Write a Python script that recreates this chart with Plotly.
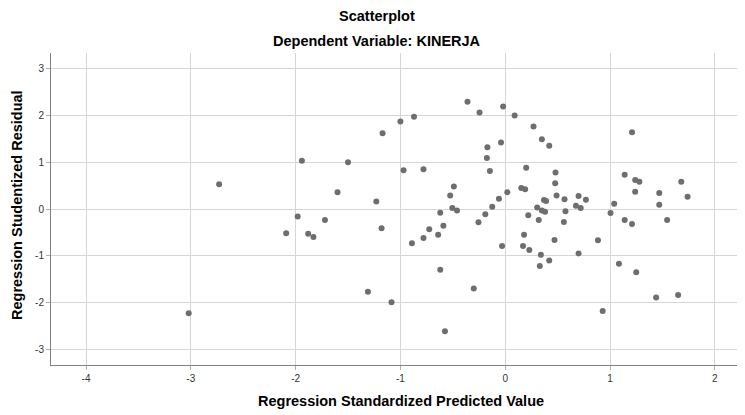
import plotly.graph_objects as go

# Regression standardized predicted value (x) and studentized residual (y)
pred = [-3.02, -2.73, -2.09, -1.98, -1.94, -1.88, -1.83, -1.72, -1.60, -1.50,
        -1.31, -1.23, -1.18, -1.17, -1.085, -1.00, -0.97, -0.89, -0.87, -0.78,
        -0.78, -0.725, -0.64, -0.62, -0.62, -0.59, -0.575, -0.525, -0.505, -0.49,
        -0.46, -0.36, -0.30, -0.255, -0.245, -0.19, -0.175, -0.17, -0.146, -0.124,
        -0.06, -0.04, -0.03, -0.02, 0.02, 0.09, 0.153, 0.17, 0.18, 0.19,
        0.20, 0.22, 0.23, 0.27, 0.305, 0.32, 0.33, 0.34, 0.35, 0.35,
        0.37, 0.38, 0.39, 0.42, 0.42, 0.47, 0.477, 0.48, 0.49, 0.56,
        0.566, 0.575, 0.675, 0.70, 0.70, 0.72, 0.77, 0.885, 0.93, 1.005,
        1.04, 1.085, 1.14, 1.14, 1.21, 1.21, 1.24, 1.24, 1.25, 1.28,
        1.44, 1.47, 1.47, 1.545, 1.65, 1.68, 1.74]
resid = [-2.23, 0.53, -0.52, -0.16, 1.03, -0.53, -0.60, -0.235, 0.36, 1.00,
         -1.77, 0.16, -0.41, 1.62, -1.99, 1.87, 0.83, -0.73, 1.97, 0.85,
         -0.62, -0.43, -0.55, -0.08, -1.30, -0.36, -2.61, 0.29, 0.02, 0.48,
         -0.03, 2.29, -1.70, -0.285, 2.06, -0.11, 1.09, 1.32, 0.81, 0.05,
         0.22, 1.42, -0.79, 2.19, 0.36, 2.00, 0.45, -0.79, -0.55, 0.42,
         0.88, -0.135, -0.875, 1.76, 0.03, -0.235, -1.22, -0.98, 1.49, -0.03,
         0.19, -0.06, 0.17, 1.35, -1.10, -0.66, 0.55, 0.78, 0.29, -0.28,
         0.21, -0.05, 0.07, 0.28, -0.95, 0.02, 0.20, -0.67, -2.18, -0.085,
         0.11, -1.17, 0.73, -0.235, 1.64, -0.32, 0.62, 0.37, -1.35, 0.58,
         -1.89, 0.34, 0.09, -0.235, -1.84, 0.58, 0.26]

x_ticks = [-4, -3, -2, -1, 0, 1, 2]
y_ticks = [-3, -2, -1, 0, 1, 2, 3]

title_1 = "Scatterplot"
title_2 = "Dependent Variable: KINERJA"
x_title = "Regression Standardized Predicted Value"
y_title = "Regression Studentized Residual"

FONT = "Liberation Sans, Arial, sans-serif"

fig = go.Figure(go.Scatter(
    x=pred, y=resid, mode="markers",
    marker=dict(size=6, color="#6e6e6e", line=dict(width=0)),
    hoverinfo="x+y", showlegend=False,
))

axis_common = dict(
    showgrid=True, gridcolor="#d6d6d6", gridwidth=1,
    zeroline=False, showline=True, linecolor="#808080", linewidth=1,
    ticks="outside", ticklen=4, tickcolor="#b0b0b0",
    tickfont=dict(family=FONT, size=10, color="#333333"),
    fixedrange=True,
)

fig.update_xaxes(range=[-4.334, 2.288], tickvals=x_ticks,
                 ticktext=[str(v) for v in x_ticks], **axis_common)
fig.update_yaxes(range=[-3.333, 3.333], tickvals=y_ticks,
                 ticktext=[str(v) for v in y_ticks], **axis_common)

# The page body adds an 8px margin; size the figure so the plot lands
# at the same screen pixels as the reference.
OFF = 8
W, H = 745 - OFF, 415 - OFF
L, R, T, B = 51 - OFF, 0, 53 - OFF, 50
pw, ph = W - L - R, H - T - B

def sx(px):  # screen x -> paper x
    return (px - OFF - L) / pw

def sy(py):  # screen y -> paper y
    return (H - B - (py - OFF)) / ph

annotations = [
    dict(text="<b>" + title_1 + "</b>", x=sx(377), y=sy(16),
         font=dict(family=FONT, size=14.5, color="#000000")),
    dict(text="<b>" + title_2 + "</b>", x=sx(377), y=sy(41),
         font=dict(family=FONT, size=14.5, color="#000000")),
    dict(text="<b>" + x_title + "</b>", x=sx(401), y=sy(401),
         font=dict(family=FONT, size=14.5, color="#000000")),
    dict(text="<b>" + y_title + "</b>", x=sx(17), y=sy(205),
         textangle=-90, font=dict(family=FONT, size=14.5, color="#000000")),
]
for a in annotations:
    a.update(xref="paper", yref="paper", showarrow=False,
             xanchor="center", yanchor="middle")

fig.update_layout(
    width=W, height=H,
    margin=dict(l=L, r=R, t=T, b=B, pad=0),
    paper_bgcolor="white", plot_bgcolor="white",
    annotations=annotations,
    font=dict(family=FONT),
)

fig.write_html("out.html")
